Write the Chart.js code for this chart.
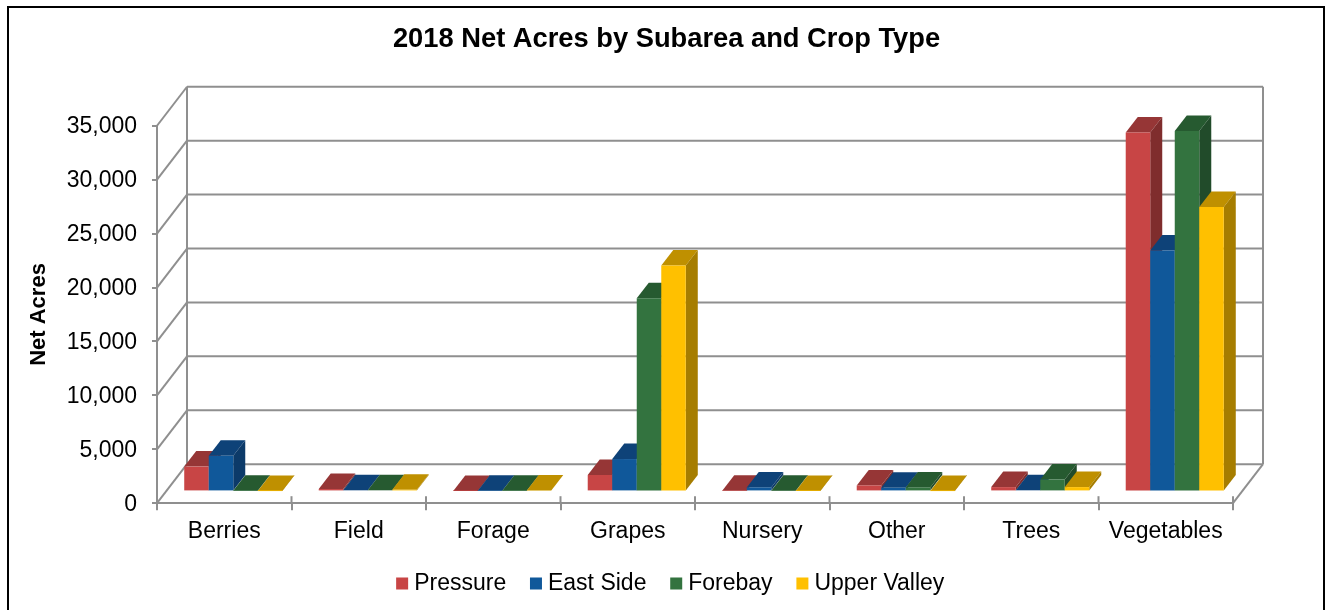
<!DOCTYPE html>
<html>
<head>
<meta charset="utf-8">
<title>2018 Net Acres by Subarea and Crop Type</title>
<script src="https://cdn.jsdelivr.net/npm/chart.js@4/dist/chart.umd.min.js"></script>
<style>
    html, body { margin: 0; padding: 0; background: #fff; overflow: hidden; }
    #frame { position: absolute; left: 7px; top: 6px; width: 1314px; height: 604px; border: 2px solid #000; border-bottom: none; }
    #wrap { position: absolute; left: 0; top: 0; width: 1330px; height: 610px; }
</style>
</head>
<body>
<div id="frame"></div>
<div id="wrap"><canvas id="cropChart" width="1330" height="610"></canvas></div>
<script>
// --- Data ---
const CATEGORIES = ["Berries", "Field", "Forage", "Grapes", "Nursery", "Other", "Trees", "Vegetables"];
const PRESSURE = [2300, 220, 40, 1520, 50, 550, 400, 33270];
const EAST_SIDE = [3300, 100, 50, 3000, 370, 330, 100, 22350];
const FOREBAY = [50, 100, 50, 17900, 60, 370, 1100, 33420];
const UPPER_VALLEY = [30, 150, 80, 20950, 40, 30, 400, 26370];
const Y_MAX = 35000;
const Y_STEP = 5000;

const FONT = "'Liberation Sans', Arial, sans-serif";
const GRID_COLOR = '#8f8f8f';

// 3D look: front/top/side colours per series
const SERIES = [
    { label: 'Pressure', data: PRESSURE, front: '#c84545', top: '#963636', side: '#7f2d2d' },
    { label: 'East Side', data: EAST_SIDE, front: '#10589a', top: '#0e4278', side: '#0c3a69' },
    { label: 'Forebay', data: FOREBAY, front: '#33733f', top: '#265a30', side: '#214b2a' },
    { label: 'Upper Valley', data: UPPER_VALLEY, front: '#ffc000', top: '#bf9000', side: '#a67d00' }
];

// Depth of the floor/back wall, the gap before the bars and the depth of a bar
const WALL_DX = 30, WALL_DY = -39;
const BAR_DX = 9, BAR_DY = -11.8;
const DEPTH_DX = 12, DEPTH_DY = -15.5;

function poly(ctx, pts, color) {
    ctx.fillStyle = color;
    ctx.beginPath();
    pts.forEach((p, i) => i ? ctx.lineTo(p[0], p[1]) : ctx.moveTo(p[0], p[1]));
    ctx.closePath();
    ctx.fill();
}

function segment(ctx, x1, y1, x2, y2) {
    ctx.beginPath();
    ctx.moveTo(x1, y1);
    ctx.lineTo(x2, y2);
    ctx.stroke();
}

function drawWalls(chart) {
    const { ctx, chartArea: a, scales } = chart;
    ctx.save();
    ctx.strokeStyle = GRID_COLOR;
    ctx.lineWidth = 2;
    scales.y.ticks.forEach(t => {
        const y = scales.y.getPixelForValue(t.value);
        segment(ctx, a.left, y, a.left + WALL_DX, y + WALL_DY);
        segment(ctx, a.left + WALL_DX, y + WALL_DY, a.right + WALL_DX, y + WALL_DY);
    });
    segment(ctx, a.left + WALL_DX, a.top + WALL_DY, a.left + WALL_DX, a.bottom + WALL_DY);
    segment(ctx, a.right + WALL_DX, a.top + WALL_DY, a.right + WALL_DX, a.bottom + WALL_DY);
    segment(ctx, a.right, a.bottom, a.right + WALL_DX, a.bottom + WALL_DY);
    // category ticks poke a little above the front floor edge
    const step = scales.x.width / CATEGORIES.length;
    CATEGORIES.forEach((_, i) => {
        const x = scales.x.getPixelForValue(i) + step / 2;
        segment(ctx, x, a.bottom, x, a.bottom - 7);
    });
    ctx.restore();
}

// Paint series left to right, each shifted into the depth, so a bar hides the side of the one before it
const threeDPlugin = {
    id: 'threeD',
    afterLayout(chart) {
        // x labels run past the squeezed axis box, don't let them be clipped
        chart.scales.x.bottom += 25;
        // legend sits a little right of the title centre
        chart.legend.left += 6.5;
        chart.legend.right += 6.5;
    },
    beforeDatasetsDraw(chart) {
        const { ctx } = chart;
        drawWalls(chart);
        SERIES.forEach((s, i) => {
            const meta = chart.getDatasetMeta(i);
            ctx.save();
            ctx.translate(BAR_DX, BAR_DY);
            meta.data.forEach(bar => {
                const l = bar.x - bar.width / 2, r = bar.x + bar.width / 2;
                poly(ctx, [[l, bar.y], [l + DEPTH_DX, bar.y + DEPTH_DY], [r + DEPTH_DX, bar.y + DEPTH_DY], [r, bar.y]], s.top);
                poly(ctx, [[r, bar.y], [r + DEPTH_DX, bar.y + DEPTH_DY], [r + DEPTH_DX, bar.base + DEPTH_DY], [r, bar.base]], s.side);
            });
            meta.controller.draw();
            ctx.restore();
        });
        return false; // already drawn, skip the normal dataset pass
    }
};

const chart = new Chart(document.getElementById('cropChart'), {
    type: 'bar',
    data: {
        labels: CATEGORIES,
        datasets: SERIES.map(s => ({
            label: s.label,
            data: s.data,
            backgroundColor: s.front,
            borderWidth: 0,
            pointStyle: 'rect',
            categoryPercentage: 0.729,
            barPercentage: 1
        }))
    },
    options: {
        responsive: false,
        animation: false,
        layout: { padding: { left: 3, right: 0, top: 23, bottom: 5 } },
        plugins: {
            title: {
                display: true,
                text: '2018 Net Acres by Subarea and Crop Type',
                color: '#000',
                font: { family: FONT, size: 27.3, weight: 'bold' },
                padding: { top: 0, bottom: 70 }
            },
            legend: {
                position: 'bottom',
                labels: {
                    usePointStyle: true,
                    boxWidth: 1,
                    boxHeight: 12,
                    padding: 29.3,
                    color: '#000',
                    font: { family: FONT, size: 23 }
                }
            },
            tooltip: { enabled: false }
        },
        scales: {
            x: {
                grid: { drawOnChartArea: false, color: GRID_COLOR, tickColor: GRID_COLOR, tickLength: 7, lineWidth: 2 },
                border: { color: GRID_COLOR, width: 2 },
                ticks: { color: '#000', padding: 8, maxRotation: 0, font: { family: FONT, size: 23 } },
                afterFit: s => { s.height = 39.5; }
            },
            y: {
                min: 0,
                max: Y_MAX,
                title: {
                    display: true,
                    text: 'Net Acres',
                    color: '#000',
                    font: { family: FONT, size: 22, weight: 'bold' },
                    padding: { top: 23, bottom: 0 }
                },
                grid: { drawOnChartArea: false, color: GRID_COLOR, tickColor: GRID_COLOR, tickLength: 5, lineWidth: 2 },
                border: { color: GRID_COLOR, width: 2 },
                ticks: {
                    stepSize: Y_STEP,
                    color: '#000',
                    padding: 15,
                    labelOffset: 1,
                    font: { family: FONT, size: 23 },
                    callback: v => v.toLocaleString('en-US')
                },
                afterFit: s => { s.width = 154; }
            },
            // empty axis, only keeps the plot off the right edge while title and legend stay centred on the page
            rightGap: {
                type: 'linear',
                position: 'right',
                grid: { display: false },
                border: { display: false },
                ticks: { display: false },
                afterFit: s => { s.width = 97; }
            }
        }
    },
    plugins: [threeDPlugin]
});
</script>
</body>
</html>
